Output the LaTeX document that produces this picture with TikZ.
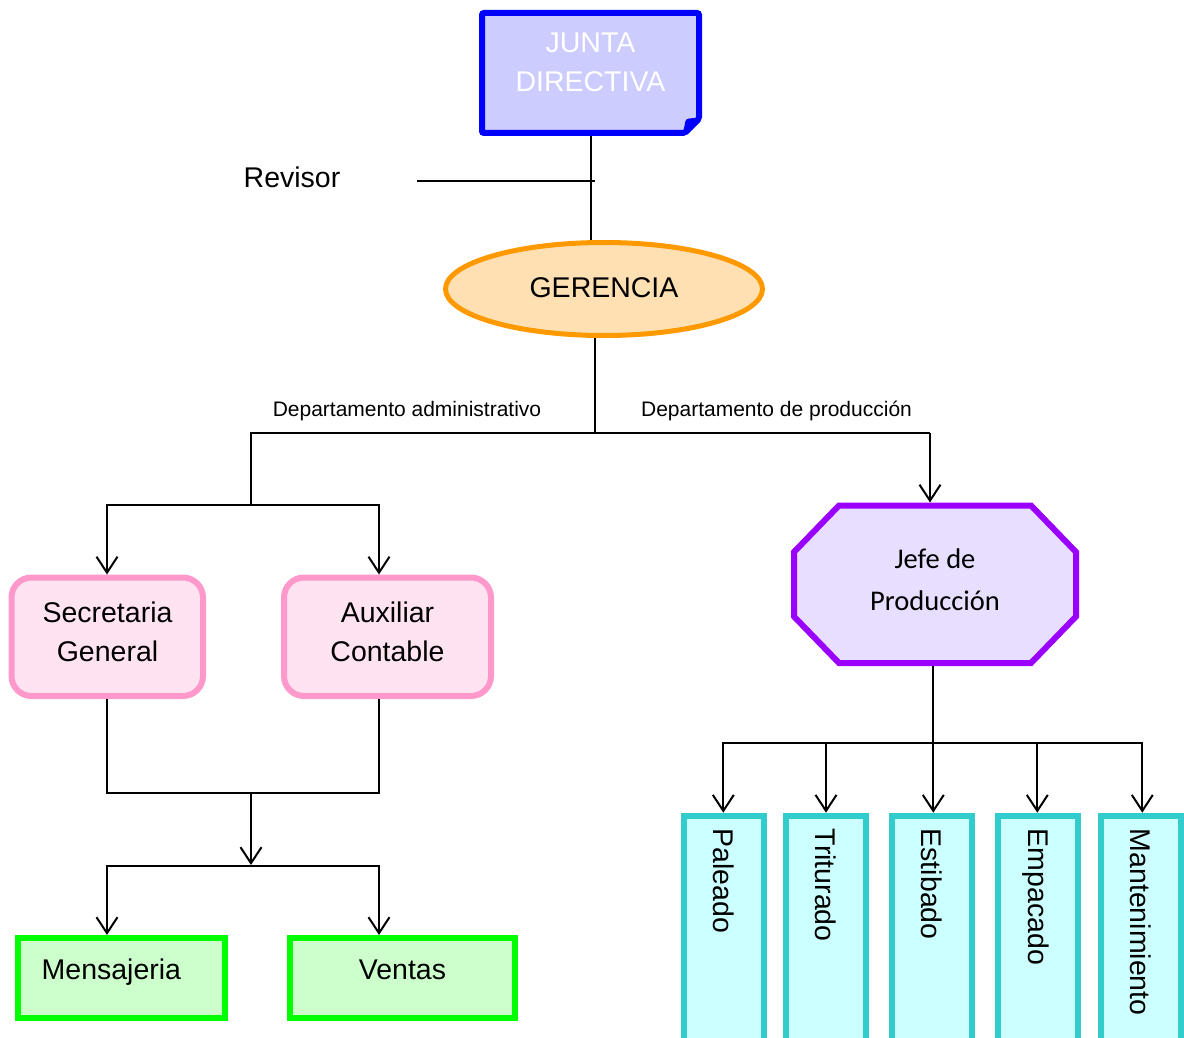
\documentclass[tikz,border=0pt]{standalone}
\usepackage{fontspec}
\setmainfont{Liberation Sans}
\newfontfamily\calfont{Carlito}
\usetikzlibrary{arrows.meta,shapes.geometric}

\definecolor{jdline}{HTML}{0000FF}
\definecolor{jdfill}{HTML}{CCCCFF}
\definecolor{gerline}{HTML}{FF9900}
\definecolor{gerfill}{HTML}{FFE0B3}
\definecolor{pkline}{HTML}{FF99CC}
\definecolor{pkfill}{HTML}{FFE3F1}
\definecolor{gnline}{HTML}{00FF00}
\definecolor{gnfill}{HTML}{CCFFCC}
\definecolor{pvline}{HTML}{9900FF}
\definecolor{pvfill}{HTML}{E8DEFF}
\definecolor{cyline}{HTML}{33CCCC}
\definecolor{cyfill}{HTML}{CCFFFF}

\begin{document}
\begin{tikzpicture}[x=1pt,y=-1pt,
  >={Straight Barb[length=16pt,width=21pt]},
  conn/.style={line width=2pt, draw=black},
  big/.style={font=\fontsize{28.5pt}{39pt}\selectfont},
  lbl/.style={big, inner sep=0pt, align=center},
  small/.style={font=\fontsize{21pt}{25pt}\selectfont, inner sep=0pt, anchor=base},
  frame/.style={minimum width=#1, inner sep=0pt, outer sep=3pt},
  oval/.style={ellipse, draw=gerline, fill=gerfill, line width=5pt,
    minimum width=317pt, minimum height=93pt, inner sep=0pt},
  pinkbox/.style={rectangle, draw=pkline, fill=pkfill, line width=6pt,
    rounded corners=20pt, minimum width=#1, minimum height=118.5pt, inner sep=0pt},
  greenbox/.style={rectangle, draw=gnline, fill=gnfill, line width=6pt,
    minimum width=#1, minimum height=80pt, inner sep=0pt},
  cyanbox/.style={rectangle, draw=cyline, fill=cyfill, line width=6pt,
    minimum width=80pt, minimum height=244pt, inner sep=0pt},
  vtext/.style={big, rotate=-90, anchor=west, inner sep=0pt,
    text height=20.4pt, text depth=0pt},
]
\useasboundingbox (0,0) rectangle (1184,1038);
\clip (0,0) rectangle (1184,1038);

% ---- board of directors (note shape with folded corner)
\node[frame=217pt, minimum height=120pt] (junta) at (590.5,73) {};
\draw[line width=6pt, draw=jdline, fill=jdfill, rounded corners=2pt]
  (482,13) -- (699,13) -- (699,119) -- (685,133) -- (482,133) -- cycle;
\fill[jdline] (683,133) -- (685.5,121) .. controls (686.5,118.5) and (689,118) .. (699,118) -- cycle;
\node[lbl, text=white] (juntatxt) at (590.5,62.3) {JUNTA\\DIRECTIVA};

% ---- management
\node[oval] (gerencia) at (604,289) {};
\node[lbl, anchor=base] (gertxt) at (604,297) {GERENCIA};

% ---- auditor
\node[lbl, anchor=base] (revisor) at (292,188) {Revisor};
\coordinate (revA) at (417,181);
\coordinate (revB) at (595,181);

% ---- department captions
\node[small] (dadm)  at (407,416.7) {Departamento administrativo};
\node[small] (dprod) at (776.5,416.7) {Departamento de producción};

% ---- administrative branch
\node[pinkbox=191.5pt] (sec) at (107.25,636.75) {};
\node[lbl] (sectxt) at (107.5,632.2) {Secretaria\\General};
\node[pinkbox=207pt] (aux) at (387.5,636.75) {};
\node[lbl] (auxtxt) at (387.5,632.2) {Auxiliar\\Contable};

\node[greenbox=206.5pt] (mens) at (121.25,978) {};
\node[lbl, anchor=base west] (menstxt) at (41.5,979) {Mensajeria};
\node[greenbox=225pt] (vent) at (402.5,978) {};
\node[lbl, anchor=base] (venttxt) at (402.5,979) {Ventas};

% ---- production branch
\node[frame=282pt, minimum height=157.5pt] (jefe) at (935,584.25) {};
\draw[line width=6pt, draw=pvline, fill=pvfill, line join=miter]
  (839,505.5) -- (1031,505.5) -- (1076,552) -- (1076,616.5) -- (1031,663)
  -- (839,663) -- (794,616.5) -- (794,552) -- cycle;
\node[lbl, font=\calfont\fontsize{28.5pt}{41.7pt}\selectfont] (jefetxt) at (935,579.9) {Jefe de\\Producción};

\node[cyanbox] (pal) at (723.85,937.7) {};
\node[cyanbox] (tri) at (825.6,937.7) {};
\node[cyanbox] (est) at (931.85,937.7) {};
\node[cyanbox] (emp) at (1038.3,937.7) {};
\node[cyanbox] (man) at (1140.85,937.7) {};
\node[vtext] (paltxt) at (723.85,828.5) {Paleado};
\node[vtext] (tritxt) at (825.6,828.5) {Triturado};
\node[vtext] (esttxt) at (931.85,828.5) {Estibado};
\node[vtext] (emptxt) at (1038.3,828.5) {Empacado};
\node[vtext] (mantxt) at (1140.85,828.5) {Mantenimiento};

% ---- junction points
\coordinate (hub)   at (595,433);
\coordinate (admL)  at (251,433);
\coordinate (prodR) at (930,433);
\coordinate (admB)  at (251,505);
\coordinate (secA)  at (107,505);
\coordinate (auxA)  at (379,505);
\coordinate (mrgL)  at (107,793);
\coordinate (mrgM)  at (251,793);
\coordinate (mrgR)  at (379,793);
\coordinate (lowM)  at (251,865);
\coordinate (lowL)  at (107,866);
\coordinate (lowR)  at (379,866);
\coordinate (jd)    at (933,743.3);
\coordinate (b1)    at (723.3,743.3);
\coordinate (b2)    at (826,743.3);
\coordinate (b3)    at (933.3,743.3);
\coordinate (b4)    at (1037.3,743.3);
\coordinate (b5)    at (1142.3,743.3);

% ---- connectors
\draw[conn] (junta.south) -- (junta.south |- gerencia.north);
\draw[conn, line width=1.6pt] (revA) -- (revB);
\draw[conn] (gerencia.south -| hub) -- (hub);
\draw[conn] (admB) -- (admL) -- (prodR);
\draw[conn, ->] (prodR) -- (prodR |- jefe.north);
\draw[conn, <->] (sec.north -| secA) -- (secA) -- (auxA) -- (aux.north -| auxA);
\draw[conn] (sec.south -| mrgL) -- (mrgL) -- (mrgR) -- (aux.south -| mrgR);
\draw[conn, ->] (mrgM) -- (lowM);
\draw[conn, <->] (mens.north -| lowL) -- (lowL) -- (lowR) -- (vent.north -| lowR);
\draw[conn] (jefe.south -| jd) -- (jd);
\draw[conn, <->] (pal.north -| b1) -- (b1) -- (b5) -- (man.north -| b5);
\draw[conn, ->] (b2) -- (tri.north -| b2);
\draw[conn, ->] (b3) -- (est.north -| b3);
\draw[conn, ->] (b4) -- (emp.north -| b4);
\end{tikzpicture}
\end{document}
